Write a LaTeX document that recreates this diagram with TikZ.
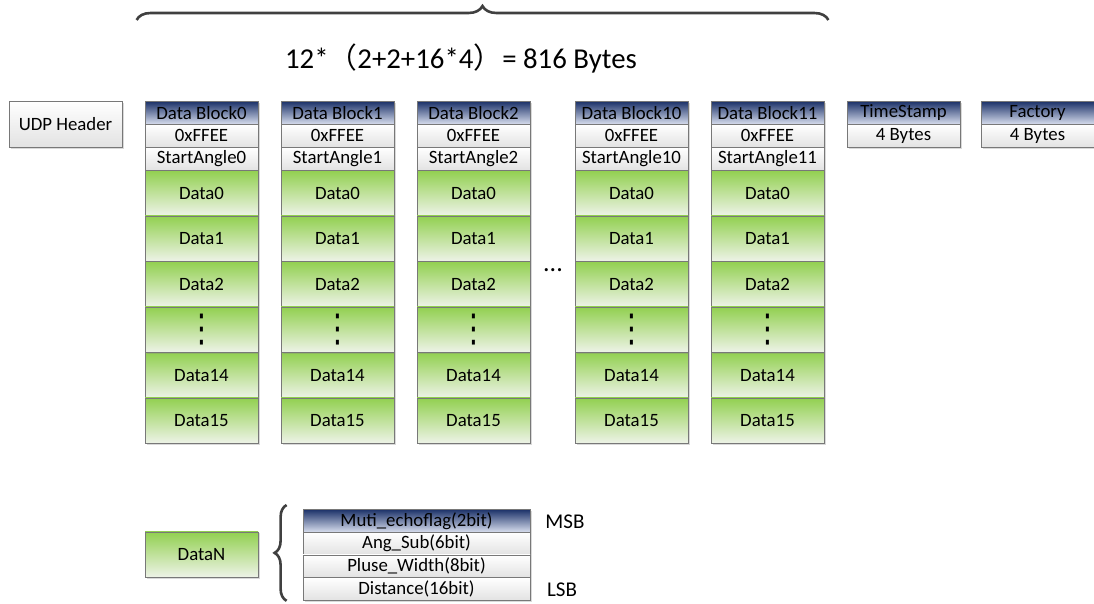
\documentclass[tikz,border=0pt]{standalone}
\usepackage{fontspec}
\setmainfont{Carlito}
\newfontfamily\cjkfont{Noto Sans CJK SC}
\newfontfamily\symfont{DejaVu Sans}
\usetikzlibrary{positioning,decorations.pathreplacing,shadows}
\definecolor{cBorder}{RGB}{120,120,120}
\definecolor{cNavy}{RGB}{28,50,105}
\definecolor{cNavyLt}{RGB}{216,222,238}
\definecolor{cGreen}{RGB}{146,208,80}
\definecolor{cGreenLt}{RGB}{238,243,232}
\definecolor{cWhiteLt}{RGB}{226,226,226}
\definecolor{cBrace}{RGB}{64,64,64}

\begin{document}
\begin{tikzpicture}[x=1pt, y=-1pt,
  font=\fontsize{18.8}{21}\selectfont,
  cell/.style={draw=cBorder, line width=0.8pt, minimum width=113pt,
    inner sep=0pt, anchor=north,
    drop shadow={shadow xshift=1.5pt, shadow yshift=-1.5pt, opacity=0.3}},
  hdcell/.style={cell, minimum height=23pt, top color=cNavy, bottom color=cNavyLt},
  wcell/.style={cell, minimum height=23pt, top color=white, bottom color=cWhiteLt},
  dcell/.style={cell, minimum height=45.5pt, top color=cGreen, bottom color=cGreenLt},
  bitcell/.style={minimum width=227pt, minimum height=22.75pt},
  brc/.style={decorate, decoration={brace, amplitude=#1}, line width=2.6pt, cBrace},
  lbl/.style={font=\fontsize{21}{24}\selectfont},
]
\useasboundingbox (0,0) rectangle (1094,603);

% UDP header
\node[wcell, minimum height=46pt] (udp) at (65.5,101) {UDP Header};

% Data blocks
\foreach \b/\x in {0/201.5,1/337.5,2/473.5,10/631.5,11/767.5} {
  \node[hdcell] (blk\b-hd) at (\x,101) {Data Block\b};
  \node[wcell] (blk\b-sync) at (\x,124) {0xFFEE};
  \node[wcell] (blk\b-ang) at (\x,147) {StartAngle\b};
  \foreach \r/\t in {0/Data0,1/Data1,2/Data2,4/Data14,5/Data15}
    \node[dcell] (blk\b-d\r) at (\x,{170+45.5*\r}) {\t};
  \node[dcell, font=\symfont\fontsize{32}{34}\selectfont]
    (blk\b-d3) at (\x,306.5) {\scalebox{0.9}[1.2]{⋮}};
}
\node[font=\fontsize{26}{28}\selectfont] (gap) at (553,270) {...};

% Trailer fields
\node[hdcell] (ts-hd) at (903.5,101) {TimeStamp};
\node[wcell] (ts-len) at (903.5,124) {4 Bytes};
\node[hdcell] (fac-hd) at (1037.5,101) {Factory};
\node[wcell] (fac-len) at (1037.5,124) {4 Bytes};

% Total size
\draw[brc=14pt] ([xshift=-8pt, yshift=81pt]blk0-hd.north west)
  -- ([xshift=4pt, yshift=81pt]blk11-hd.north east);
\node[font=\fontsize{28.8}{32}\selectfont] (total) at (461,58)
  {12*{\cjkfont （}2+2+16*4{\cjkfont ）}= 816 Bytes};

% DataN bit layout
\node[dcell] (datan) at (201.5,531.5) {DataN};
\node[hdcell, bitcell] (bit-flag) at (416.5,509) {Muti\_echoflag(2bit)};
\node[wcell, bitcell] (bit-ang) at (416.5,531.75) {Ang\_Sub(6bit)};
\node[wcell, bitcell] (bit-pw) at (416.5,554.5) {Pluse\_Width(8bit)};
\node[wcell, bitcell] (bit-dist) at (416.5,577.25) {Distance(16bit)};
\draw[brc=12pt] ([xshift=-16pt]bit-dist.south west)
  -- ([xshift=-16pt, yshift=4pt]bit-flag.north west);
\node[lbl] (msb) at (565,522) {MSB};
\node[lbl] (lsb) at (562,590) {LSB};

\end{tikzpicture}
\end{document}
